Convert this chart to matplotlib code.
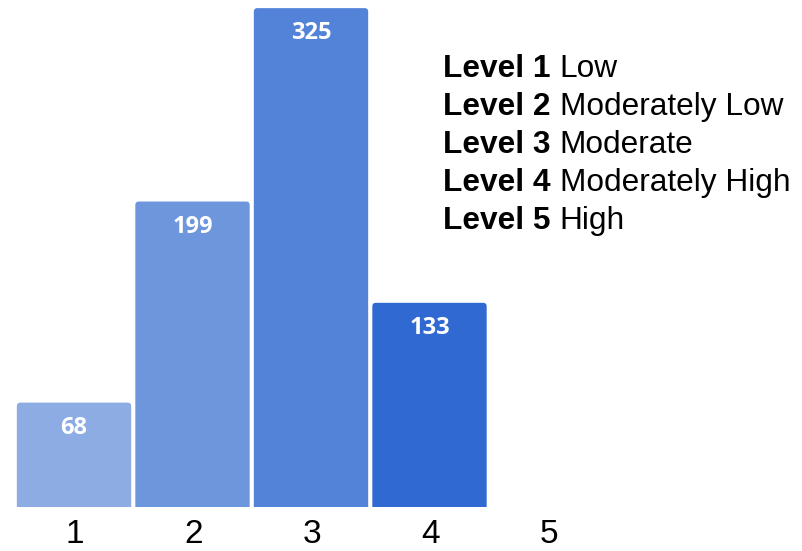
import matplotlib.pyplot as plt
from matplotlib.patches import FancyBboxPatch, Rectangle

# --- Data ---
levels = [1, 2, 3, 4, 5]
counts = [68, 199, 325, 133, 0]
bar_colors = ['#8dace3', '#6d96dd', '#5283d9', '#3069d2', '#1f55c4']
legend_bold = ['Level 1', 'Level 2', 'Level 3', 'Level 4', 'Level 5']
legend_desc = ['Low', 'Moderately Low', 'Moderate', 'Moderately High', 'High']

fig = plt.figure(figsize=(8.03, 5.51), dpi=100, facecolor='white')
ax = fig.add_axes([0, 0, 1, 1])
ax.set_xlim(0.3755, 7.152)
ax.set_ylim(-28.7, 330.3)
ax.axis('off')

bars = ax.bar(levels, counts, width=0.965, color=bar_colors, linewidth=0)

# swap plain bars for ones with slightly rounded tops
clip = Rectangle((0, 0), 10, 1000, transform=ax.transData)
for b in bars:
    if b.get_height() <= 0:
        continue
    b.set_visible(False)
    rb = FancyBboxPatch((b.get_x(), -5), b.get_width(), b.get_height() + 5,
                        boxstyle='round,pad=0,rounding_size=0.03',
                        mutation_aspect=77, facecolor=b.get_facecolor(),
                        linewidth=0)
    ax.add_patch(rb)
    rb.set_clip_path(clip)

# value labels inside the bars
for b, v in zip(bars, counts):
    if v <= 0:
        continue
    ax.annotate(str(v), xy=(b.get_x() + b.get_width() / 2, v),
                xytext=(0, -25), textcoords='offset pixels',
                ha='center', va='center', color='white',
                fontsize=17, fontweight='bold', family='Open Sans')

# category labels below the baseline
for lv in levels:
    ax.text(lv + 0.01, -23.5, str(lv), ha='center', va='baseline',
            fontsize=24, family='Liberation Sans', color='black')

# level legend at top right
y0 = 1 - 69 / 551
step = 38 / 551
for i, (bold, desc) in enumerate(zip(legend_bold, legend_desc)):
    t = fig.text(443 / 803, y0 - i * step, bold, ha='left', va='center',
                 fontsize=22.8, fontweight='bold', family='Liberation Sans')
    ax.annotate(desc, xy=(1, 0.5), xycoords=t, xytext=(9, 0),
                textcoords='offset pixels', ha='left', va='center',
                fontsize=22.8, family='Liberation Sans')

fig.savefig('out.png', dpi=100, facecolor='white')
